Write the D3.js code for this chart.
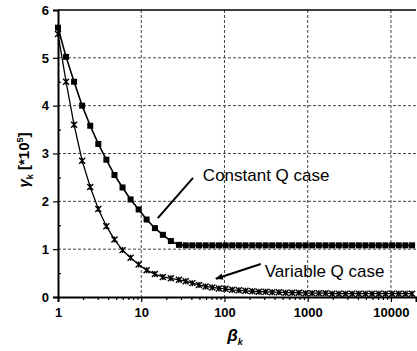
<!DOCTYPE html>
<html>
<head>
<meta charset="utf-8">
<script src="https://cdn.jsdelivr.net/npm/d3@7"></script>
<style>
    body { margin: 0; background: #fff; }
    svg { display: block; font-family: "Liberation Sans", Arial, sans-serif; }
</style>
</head>
<body>
<svg id="chart" width="417" height="351"></svg>
<script>
// beta_k values (x, log scale)
const beta = [
    1, 1.25, 1.56, 1.95, 2.44, 3.05, 3.81, 4.77, 5.96, 7.45, 9.31, 11.6, 14.6, 18.2, 22.7, 28.4,
    34.2, 41.1, 49.4, 59.4, 71.4, 85.9, 103, 124, 149, 179, 216, 259, 312, 375, 451, 542, 652, 783, 942,
    1132, 1361, 1637, 1968, 2366, 2844, 3420, 4111, 4943, 5943, 7145, 8590, 10328, 12417, 14928, 17947
];
// gamma_k [*10^5]
const constantQ = [
    5.63, 5.02, 4.50, 4.00, 3.58, 3.20, 2.87, 2.55, 2.29, 2.04, 1.83, 1.62, 1.44, 1.30, 1.17, 1.09,
    1.08, 1.08, 1.08, 1.08, 1.08, 1.08, 1.08, 1.08, 1.08, 1.08, 1.08, 1.08, 1.08, 1.08, 1.08, 1.08, 1.08, 1.08, 1.08,
    1.08, 1.08, 1.08, 1.08, 1.08, 1.08, 1.08, 1.08, 1.08, 1.08, 1.08, 1.08, 1.08, 1.08, 1.08, 1.08
];
const variableQ = [
    5.50, 4.50, 3.60, 2.85, 2.30, 1.84, 1.48, 1.20, 0.98, 0.82, 0.68, 0.56, 0.48, 0.42, 0.39, 0.36,
    0.33, 0.29, 0.25, 0.22, 0.20, 0.18, 0.17, 0.15, 0.14, 0.13, 0.12, 0.11, 0.11, 0.10, 0.10, 0.09, 0.09, 0.09, 0.08,
    0.08, 0.08, 0.08, 0.07, 0.07, 0.07, 0.07, 0.07, 0.07, 0.07, 0.07, 0.07, 0.07, 0.07, 0.07, 0.07
];
const xTicks = [1, 10, 100, 1000, 10000];
const yTicks = [0, 1, 2, 3, 4, 5, 6];
const yMinorTicks = [0.5, 1.5, 2.5, 3.5, 4.5, 5.5];

// annotations: [label, textBeta, textValue, arrowFromBeta, arrowFromValue, arrowToBeta, arrowToValue, head]
const notes = [
    ["Constant Q case", 55, 2.43, 41.9, 2.49, 15.8, 1.65, false],
    ["Variable Q case", 305, 0.42, 273, 0.69, 78.8, 0.38, true]
];

const width = 417, height = 351;
const margins = { top: 10, right: 1, bottom: 54, left: 58 };

const svg = d3.select("#chart");

const x = d3.scaleLog()
    .domain([1, 20000])
    .range([margins.left, width - margins.right]);
const y = d3.scaleLinear()
    .domain([0, 6])
    .range([height - margins.bottom, margins.top]);

// grid
const grid = svg.append("g").attr("stroke", "#444").attr("stroke-width", 1).attr("stroke-dasharray", "3,2");
grid.selectAll("line.h")
    .data(yTicks.filter(d => d > 0 && d < 6))
    .enter().append("line")
    .attr("x1", margins.left).attr("x2", width - margins.right)
    .attr("y1", d => y(d)).attr("y2", d => y(d));
grid.selectAll("line.v")
    .data(xTicks.filter(d => d > 1))
    .enter().append("line")
    .attr("x1", d => x(d)).attr("x2", d => x(d))
    .attr("y1", margins.top).attr("y2", height - margins.bottom);

// top border
svg.append("line")
    .attr("x1", margins.left).attr("x2", width - margins.right)
    .attr("y1", y(6)).attr("y2", y(6))
    .attr("stroke", "#000").attr("stroke-width", 1.5);

// y axis
svg.append("g")
    .attr("transform", `translate(${margins.left},0)`)
    .call(d3.axisLeft(y).tickValues(yTicks).tickSize(5).tickPadding(4).tickFormat(d3.format("d")));
svg.append("g")
    .attr("transform", `translate(${margins.left},0)`)
    .call(d3.axisRight(y).tickValues(yMinorTicks).tickSize(3).tickFormat(""))
    .call(g => g.select(".domain").remove());

// x axis
svg.append("g")
    .attr("transform", `translate(0,${height - margins.bottom})`)
    .call(d3.axisBottom(x).tickValues(xTicks).tickSize(5).tickPadding(6).tickFormat(d3.format("d")));
svg.append("g")
    .attr("transform", `translate(0,${height - margins.bottom})`)
    .call(d3.axisBottom(x).tickValues(x.ticks().filter(d => !xTicks.includes(d))).tickSize(3).tickFormat(""))
    .call(g => g.select(".domain").remove());

svg.selectAll(".domain").attr("stroke", "#000").attr("stroke-width", 2);
svg.selectAll(".tick line").attr("stroke", "#000").attr("stroke-width", 1.2);
svg.selectAll(".tick text")
    .attr("fill", "#000")
    .attr("font-family", "Liberation Sans, Arial, sans-serif")
    .attr("font-size", 13)
    .attr("font-weight", "bold");

// lines
const line = d3.line().x(d => x(d[0])).y(d => y(d[1]));
const constData = beta.map((b, i) => [b, constantQ[i]]);
const varData = beta.map((b, i) => [b, variableQ[i]]);

svg.append("path").datum(constData)
    .attr("d", line).attr("fill", "none").attr("stroke", "#000").attr("stroke-width", 1.6);
svg.append("path").datum(varData)
    .attr("d", line).attr("fill", "none").attr("stroke", "#000").attr("stroke-width", 1.3);

// square markers
svg.append("g").selectAll("rect")
    .data(constData)
    .enter().append("rect")
    .attr("x", d => x(d[0]) - 3).attr("y", d => y(d[1]) - 3)
    .attr("width", 6).attr("height", 6)
    .attr("fill", "#000");

// star markers (x with vertical bar)
const star = "M-3,-3L3,3M-3,3L3,-3M0,-3L0,3";
svg.append("g").selectAll("path")
    .data(varData)
    .enter().append("path")
    .attr("transform", d => `translate(${x(d[0])},${y(d[1])})`)
    .attr("d", star)
    .attr("stroke", "#000").attr("stroke-width", 1.4).attr("fill", "none");

// annotations
svg.append("defs").append("marker")
    .attr("id", "arrow").attr("viewBox", "0 0 10 10")
    .attr("refX", 9).attr("refY", 5)
    .attr("markerWidth", 4).attr("markerHeight", 4)
    .attr("orient", "auto")
    .append("path").attr("d", "M0,1L10,5L0,9Z").attr("fill", "#000");

const ann = svg.append("g");
notes.forEach(n => {
    ann.append("text")
        .attr("x", x(n[1])).attr("y", y(n[2]))
        .attr("font-size", 17)
        .attr("fill", "#000")
        .text(n[0]);
    ann.append("line")
        .attr("x1", x(n[3])).attr("y1", y(n[4]))
        .attr("x2", x(n[5])).attr("y2", y(n[6]))
        .attr("stroke", "#000").attr("stroke-width", 2)
        .attr("marker-end", n[7] ? "url(#arrow)" : null);
});

// axis titles
const yTitle = svg.append("text")
    .attr("transform", "translate(29,160) rotate(-90)")
    .attr("text-anchor", "middle")
    .attr("font-size", 15)
    .attr("font-weight", "bold");
yTitle.append("tspan").attr("font-style", "italic").text("γ");
yTitle.append("tspan").attr("font-size", 9).attr("dy", 4).text("k");
yTitle.append("tspan").attr("dy", -4).text(" [*10");
yTitle.append("tspan").attr("font-size", 9).attr("dy", -6).text("5");
yTitle.append("tspan").attr("dy", 6).text("]");

const xTitle = svg.append("text")
    .attr("x", 235).attr("y", 341)
    .attr("text-anchor", "middle")
    .attr("font-size", 17)
    .attr("font-weight", "bold")
    .attr("font-style", "italic");
xTitle.append("tspan").text("β");
xTitle.append("tspan").attr("font-size", 9).attr("dy", 4).text("k");
</script>
</body>
</html>
